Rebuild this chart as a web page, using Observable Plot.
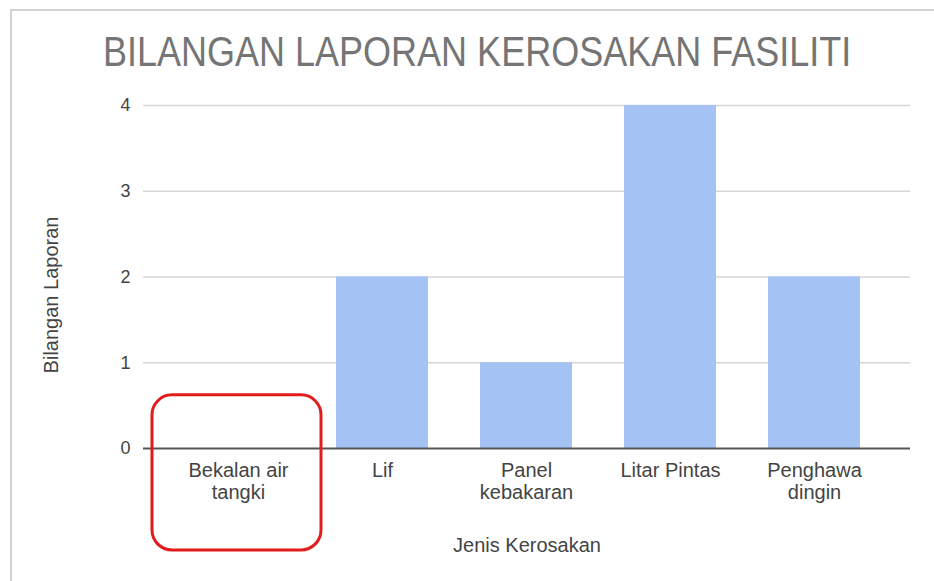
<!DOCTYPE html>
<html>
<head>
<meta charset="utf-8">
<script src="https://cdn.jsdelivr.net/npm/d3@7"></script>
<script src="https://cdn.jsdelivr.net/npm/@observablehq/plot@0.6"></script>
<style>
  html, body { margin: 0; padding: 0; background: #fff; }
  #wrap { position: relative; width: 934px; height: 581px; overflow: hidden; font-family: "Liberation Sans", Arial, sans-serif; }
  #frame { position: absolute; left: 10px; top: 9px; right: -5px; bottom: -5px; border-top: 2px solid #d2d2d2; border-left: 2px solid #d2d2d2; }
  #title { position: absolute; left: 103px; top: 30px; margin: 0; font-size: 36px; font-weight: normal; line-height: 1; color: #757575; white-space: nowrap; transform: scaleY(1.2); transform-origin: 0 0; font-family: "Liberation Sans", Arial, sans-serif; }
  #chart { position: absolute; left: 0; top: 0; }
</style>
</head>
<body>
<div id="wrap">
  <div id="frame"></div>
  <div id="chart"></div>
  <div id="title">BILANGAN LAPORAN KEROSAKAN FASILITI</div>
</div>
<script>
const categories = ["Bekalan air tangki", "Lif", "Panel kebakaran", "Litar Pintas", "Penghawa dingin"];
const tickLabels = ["Bekalan air\ntangki", "Lif", "Panel\nkebakaran", "Litar Pintas", "Penghawa\ndingin"];
const values = [0, 2, 1, 4, 2];
const yTicks = [0, 1, 2, 3, 4];
const highlightCategory = ["Bekalan air tangki"];
const highlightSpan = [0.62, -1.19];
const xTitle = "Jenis Kerosakan";
const yTitle = "Bilangan Laporan";

const data = categories.map((c, i) => ({category: c, value: values[i]}));
const labelOf = new Map(categories.map((c, i) => [c, tickLabels[i]]));

const chart = Plot.plot({
  width: 934,
  height: 581,
  marginLeft: 143,
  marginRight: 24,
  marginTop: 105,
  marginBottom: 133,
  style: {fontFamily: "Liberation Sans, Arial, sans-serif", background: "transparent"},
  x: {domain: categories, paddingInner: 0.36, paddingOuter: 0.343},
  y: {domain: [0, 4]},
  marks: [
    Plot.ruleY(yTicks.filter(d => d !== 0), {stroke: "#d6d6d6", strokeWidth: 1.5}),
    Plot.barY(data, {x: "category", y: "value", fill: "#a4c2f4"}),
    Plot.ruleY([0], {stroke: "#555", strokeWidth: 2}),
    Plot.axisY({ticks: yTicks, tickSize: 0, tickPadding: 13, fontSize: 18, color: "#444", label: null, tickFormat: d => String(d)}),
    Plot.axisX({tickSize: 0, tickPadding: 13, fontSize: 20, color: "#444", label: null, tickFormat: d => labelOf.get(d), lineHeight: 1.1}),
    Plot.text([xTitle], {frameAnchor: "bottom", lineAnchor: "middle", text: d => d, dy: 97, fontSize: 20, fill: "#444"}),
    Plot.text([yTitle], {frameAnchor: "left", textAnchor: "middle", lineAnchor: "middle", text: d => d, rotate: -90, dx: -92, dy: 18, fontSize: 20, fill: "#444"}),
    Plot.barY(highlightCategory, {x: d => d, y1: highlightSpan[0], y2: highlightSpan[1], fill: "none", stroke: "#e31b1b", strokeWidth: 3, rx: 20, insetLeft: -40, insetRight: -37})
  ]
});
document.getElementById("chart").appendChild(chart);
</script>
</body>
</html>
